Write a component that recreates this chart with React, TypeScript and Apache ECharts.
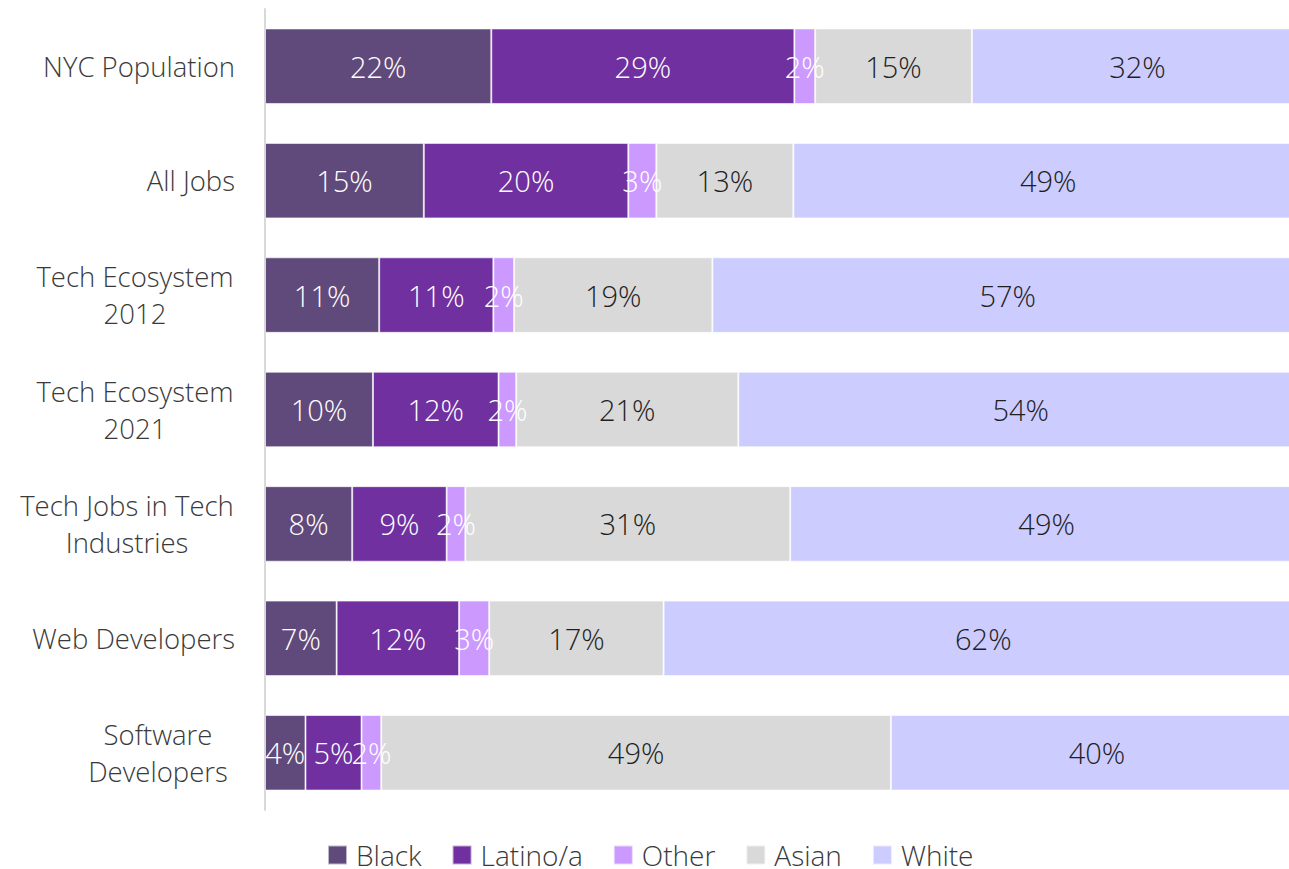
import React, { useEffect, useRef } from "react";
import * as echarts from "echarts";

const categories = [
  "NYC Population",
  "All Jobs",
  "Tech Ecosystem\n2012",
  "Tech Ecosystem\n2021",
  "Tech Jobs in Tech\nIndustries",
  "Web Developers",
  "Software\nDevelopers",
];

const seriesNames = ["Black", "Latino/a", "Other", "Asian", "White"];

const black = [21.8, 15.3, 11.0, 10.4, 8.4, 6.9, 3.9];
const latino = [29.2, 19.7, 11.0, 12.1, 9.1, 11.8, 5.4];
const other = [2.0, 2.7, 2.0, 1.7, 1.8, 2.9, 1.9];
const asian = [15.1, 13.2, 19.1, 21.4, 31.3, 16.8, 49.1];
const white = [31.9, 49.1, 56.9, 54.4, 49.4, 61.6, 39.7];

const seriesValues = [black, latino, other, asian, white];
const colors = ["#604a7b", "#7030a0", "#cc99ff", "#d9d9d9", "#ccccff"];
const labelColors = ["#ffffff", "#ffffff", "#ffffff", "#1f1f1f", "#1f1f1f"];

const FONT = "'Open Sans', 'Noto Sans', sans-serif";
const CAT_SIZE = 27.5;
const WEIGHT = 350;
// extra right-side space for some two-line category labels (style only)
const labelExtraRight = [0, 0, 0, 0, 0, 0, 12];

function measure(text: string, size: number, weight: number): number {
  const c = document.createElement("canvas");
  const ctx = c.getContext("2d");
  if (!ctx) return text.length * size * 0.55;
  ctx.font = `${weight} ${size}px ${FONT}`;
  return ctx.measureText(text).width;
}

export default function App() {
  const ref = useRef<HTMLDivElement>(null);

  useEffect(() => {
    if (!ref.current) return;
    const chart = echarts.init(ref.current, undefined, { renderer: "svg" });

    const rich: Record<string, any> = {};
    categories.forEach((cat, i) => {
      const lines = cat.split("\n");
      const w = Math.max(...lines.map((l) => measure(l, CAT_SIZE, WEIGHT)));
      rich["c" + i] = {
        width: Math.ceil(w) + 2 + labelExtraRight[i],
        align: "center",
        fontSize: CAT_SIZE,
        fontFamily: FONT,
        fontWeight: WEIGHT,
        color: "#3a3a3a",
        lineHeight: 37,
      };
    });

    chart.setOption({
      animation: false,
      grid: { left: 265, right: 0, top: 9, bottom: 59, containLabel: false },
      xAxis: { type: "value", min: 0, max: 100, show: false },
      yAxis: {
        type: "category",
        data: categories,
        inverse: true,
        axisLine: { show: true, lineStyle: { color: "#d9d9d9", width: 2 } },
        axisTick: { show: false },
        axisLabel: {
          margin: 30,
          fontSize: CAT_SIZE,
          fontFamily: FONT,
          fontWeight: WEIGHT,
          color: "#3a3a3a",
          lineHeight: 37,
          formatter: (value: string, index: number) => {
            const lines = value.split("\n");
            if (lines.length === 1) return value;
            return lines.map((l) => `{c${index}|${l}}`).join("\n");
          },
          rich,
        },
      },
      legend: {
        left: 327,
        top: 841,
        padding: 0,
        itemWidth: 19,
        itemHeight: 19,
        itemGap: 30,
        icon: "rect",
        textStyle: {
          fontSize: 28,
          lineHeight: 24,
          fontFamily: FONT,
          fontWeight: WEIGHT,
          color: "#3a3a3a",
          padding: [0, 0, 0, 4],
        },
        data: seriesNames,
      },
      series: seriesNames.map((name, si) => ({
        name,
        type: "bar",
        stack: "total",
        barCategoryGap: "34%",
        data: seriesValues[si],
        itemStyle: {
          color: colors[si],
          borderColor: "rgba(255,255,255,0.6)",
          borderWidth: 1,
        },
        label: {
          show: true,
          position: "inside",
          fontSize: 29,
          fontFamily: FONT,
          fontWeight: WEIGHT,
          color: labelColors[si],
          formatter: (p: any) => Math.round(p.value) + "%",
        },
      })),
    });

    return () => chart.dispose();
  }, []);

  return (
    <div
      style={{
        position: "absolute",
        left: 0,
        top: 0,
        width: 1289,
        height: 869,
        overflow: "hidden",
      }}
    >
      <div ref={ref} style={{ width: 1303, height: 869 }} />
    </div>
  );
}
